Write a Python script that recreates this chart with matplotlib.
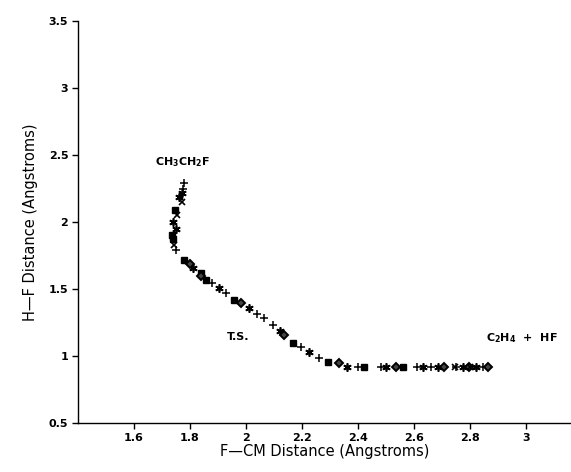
import matplotlib
matplotlib.use("Agg")
import matplotlib.pyplot as plt

# points along the reaction path, grouped by marker symbol
plus_x = [1.78, 1.775, 1.75, 1.88, 1.93, 2.04, 2.065, 2.095, 2.195, 2.26,
          2.40, 2.48, 2.61, 2.66, 2.75, 2.845]
plus_y = [2.29, 2.25, 1.79, 1.545, 1.47, 1.31, 1.28, 1.23, 1.07, 0.985,
          0.92, 0.92, 0.92, 0.92, 0.92, 0.92]

star_x = [1.77, 1.76, 1.75, 1.74, 1.81, 1.905, 2.01, 2.12, 2.225, 2.36,
          2.50, 2.63, 2.685, 2.775, 2.82]
star_y = [2.22, 2.19, 1.95, 2.0, 1.66, 1.51, 1.36, 1.19, 1.03, 0.92,
          0.92, 0.92, 0.92, 0.92, 0.92]

sq_x = [1.745, 1.736, 1.74, 1.78, 1.84, 1.857, 1.957, 2.168, 2.293, 2.42, 2.56]
sq_y = [2.09, 1.90, 1.87, 1.72, 1.62, 1.57, 1.42, 1.10, 0.955, 0.92, 0.92]

dia_x = [1.80, 1.84, 1.982, 2.136, 2.33, 2.535, 2.705, 2.795, 2.865]
dia_y = [1.69, 1.60, 1.395, 1.157, 0.945, 0.92, 0.92, 0.92, 0.92]

cross_x = [1.77, 1.755, 1.743, 2.745, 2.80]
cross_y = [2.15, 2.05, 1.83, 0.92, 0.92]

fig = plt.figure(figsize=(5.71, 4.72), dpi=100)
ax = fig.add_axes([0.1366, 0.1038, 0.8634, 0.8517])

kw = dict(linestyle="none", color="black")
ax.plot(plus_x, plus_y, marker="+", markersize=6, mew=1.1, **kw)
ax.plot(star_x, star_y, marker=(6, 2, 0), markersize=6, mew=1.2, **kw)
ax.plot(sq_x, sq_y, marker="s", markersize=4.5, mew=1.0, **kw)
ax.plot(dia_x, dia_y, marker="D", markersize=4, mew=1.4, mfc="#444444", **kw)
ax.plot(cross_x, cross_y, marker="x", markersize=4.5, mew=1.2, **kw)

ax.text(1.775, 2.45, r"CH$_\mathbf{3}$CH$_\mathbf{2}$F", fontsize=8, fontweight="bold",
        ha="center", va="center")
ax.text(1.97, 1.14, "T.S.", fontsize=8, fontweight="bold", ha="center", va="center")
ax.text(2.855, 1.13, r"C$_\mathbf{2}$H$_\mathbf{4}$  +  HF", fontsize=8, fontweight="bold",
        ha="left", va="center")

ax.set_xlim(1.4, 3.16)
ax.set_ylim(0.5, 3.5)
ax.set_xticks([1.6, 1.8, 2.0, 2.2, 2.4, 2.6, 2.8, 3.0])
ax.set_xticklabels(["1.6", "1.8", "2", "2.2", "2.4", "2.6", "2.8", "3"])
ax.set_yticks([0.5, 1, 1.5, 2, 2.5, 3, 3.5])
ax.set_yticklabels(["0.5", "1", "1.5", "2", "2.5", "3", "3.5"])

for s in ["top", "right"]:
    ax.spines[s].set_visible(False)
for s in ["left", "bottom"]:
    ax.spines[s].set_linewidth(1.0)
ax.tick_params(direction="out", length=4, width=1, labelsize=8, pad=3)
for lab in ax.get_xticklabels() + ax.get_yticklabels():
    lab.set_fontweight("bold")

ax.set_xlabel("F\u2014CM Distance (Angstroms)", fontsize=10.5, labelpad=1)
ax.set_ylabel("H\u2014F Distance (Angstroms)", fontsize=10.5, labelpad=8)

fig.savefig("out.png", dpi=100)
